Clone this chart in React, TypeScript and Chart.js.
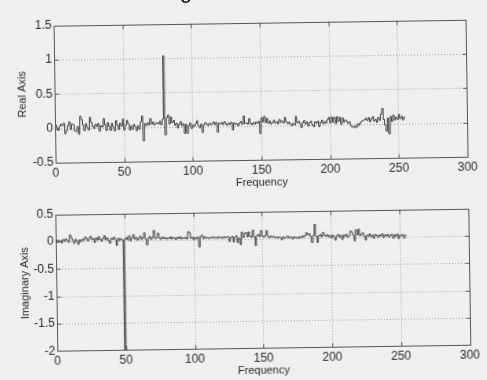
import React, { useEffect, useRef } from "react";
import { Chart, registerables } from "chart.js";

Chart.register(...registerables);

// ---------------- data ----------------
const frequencies: number[] = Array.from({ length: 256 }, (_, i) => i);

const realValues: number[] = [
  0.02, 0.05, 0.01, -0.03, 0.03, 0.06, 0.04, 0.07, -0.08, -0.03, 0.04, 0.09, -0.02, 0.06, 0.05, -0.04,
  -0.05, 0.02, -0.09, 0.17, 0.12, 0.04, -0.04, 0.06, 0.01, -0.03, 0.15, 0.08, 0.02, -0.01, 0.05, 0.02,
  0.06, -0.05, 0.03, 0.01, 0.13, 0.04, -0.04, 0.07, 0.02, -0.04, 0.06, 0.01, -0.05, 0.1, 0.03, -0.03,
  0.06, 0.02, 0.12, -0.04, 0.03, 0.1, 0.05, -0.04, 0.02, -0.03, 0.04, 0.01, -0.05, 0.02, -0.03, 0.08,
  0.16, -0.2, 0.05, 0.02, 0.06, 0.03, 0.12, 0.04, 0.07, 0.03, 0.05, 0.06, 0.04, 0.08, 0.03, 0.11,
  1.03, -0.12, 0.13, 0.17, 0.04, 0.14, 0.06, 0.09, 0.02, 0.05, -0.02, 0.03, 0.07, 0.01, 0.04, -0.1,
  0.03, -0.1, 0.01, 0.05, -0.03, 0.02, 0.0, 0.04, 0.08, 0.01, -0.02, 0.03, -0.09, 0.02, 0.05, 0.03,
  0.01, 0.04, 0.02, 0.03, 0.06, 0.02, 0.05, -0.09, 0.04, 0.03, 0.05, 0.02, 0.06, 0.03, 0.01, 0.04,
  0.02, 0.05, -0.06, 0.04, 0.02, 0.03, 0.0, 0.04, 0.06, 0.02, 0.14, 0.03, 0.04, 0.02, 0.1, 0.03,
  0.01, 0.04, 0.02, 0.05, 0.03, 0.06, -0.12, 0.11, 0.05, 0.13, 0.04, 0.1, 0.03, 0.06, 0.02, 0.04,
  0.07, 0.03, 0.05, 0.02, 0.08, 0.04, 0.06, 0.03, 0.11, 0.05, 0.02, 0.04, 0.01, -0.01, 0.02, 0.0,
  0.12, 0.03, 0.05, 0.02, -0.04, 0.03, 0.06, 0.01, 0.04, -0.02, 0.03, 0.05, 0.0, -0.03, 0.04, 0.02,
  0.05, -0.03, 0.03, 0.06, 0.01, 0.04, 0.02, 0.07, 0.1, 0.02, 0.11, 0.03, 0.1, 0.01, 0.11, 0.04,
  0.1, 0.0, 0.09, 0.03, 0.06, 0.04, 0.01, 0.03, -0.02, -0.04, -0.05, -0.03, -0.05, 0.0, -0.02, 0.02,
  0.04, 0.05, 0.06, 0.08, 0.05, 0.09, 0.03, 0.07, 0.1, 0.04, 0.06, 0.02, 0.09, 0.05, 0.14, 0.22,
  0.06, -0.02, -0.11, 0.08, -0.15, 0.1, 0.03, 0.12, 0.05, 0.09, 0.06, 0.13, 0.07, 0.1, 0.05, 0.09,
];

const imagValues: number[] = [
  0.02, 0.01, 0.03, 0.0, 0.02, -0.02, 0.04, 0.01, 0.05, 0.02, -0.01, 0.12, 0.07, 0.02, -0.03, 0.04,
  0.01, -0.05, 0.03, 0.0, 0.04, 0.02, 0.08, 0.05, 0.01, 0.06, 0.09, 0.03, 0.05, -0.02, 0.06, 0.02,
  0.08, 0.03, 0.0, 0.05, 0.1, 0.02, 0.06, 0.01, -0.04, 0.05, 0.03, 0.07, 0.02, -0.08, 0.05, 0.01,
  0.04, 0.02, -2.0, 0.03, 0.06, 0.02, 0.09, 0.0, 0.05, 0.11, 0.03, 0.06, 0.01, 0.04, 0.08, 0.02,
  0.05, 0.14, 0.03, -0.08, 0.04, 0.07, 0.02, 0.06, 0.18, 0.03, 0.05, 0.13, 0.04, 0.02, 0.06, 0.03,
  0.05, 0.02, 0.04, 0.03, 0.06, 0.02, 0.05, 0.04, 0.01, 0.05, 0.03, 0.06, 0.02, 0.04, 0.03, 0.05,
  0.02, 0.15, 0.13, 0.03, 0.05, 0.0, 0.04, 0.02, 0.05, -0.13, 0.06, 0.08, 0.02, 0.05, 0.03, 0.04,
  0.02, 0.04, 0.03, 0.05, 0.03, 0.04, 0.02, 0.05, 0.03, 0.04, 0.02, 0.05, 0.03, 0.04, 0.05, -0.04,
  0.03, 0.05, -0.05, 0.04, 0.06, -0.06, 0.02, -0.1, 0.13, 0.03, 0.1, 0.12, 0.04, 0.13, 0.05, 0.03,
  0.16, 0.04, -0.12, 0.06, 0.08, 0.04, 0.15, 0.05, 0.03, 0.06, 0.15, 0.04, 0.02, 0.05, 0.03, 0.04,
  0.02, 0.03, 0.01, 0.03, 0.02, -0.02, 0.03, 0.01, 0.02, 0.04, 0.01, 0.03, 0.02, -0.01, 0.03, 0.01,
  0.02, 0.0, 0.03, 0.01, 0.04, 0.02, 0.05, 0.1, 0.06, 0.08, 0.03, -0.08, 0.05, 0.25, 0.03, -0.08,
  0.04, 0.06, 0.02, 0.1, 0.05, 0.03, 0.06, 0.02, 0.04, 0.0, 0.05, 0.02, -0.04, 0.03, 0.06, 0.01,
  0.04, -0.03, 0.05, 0.02, 0.06, 0.01, 0.03, 0.12, 0.1, 0.04, -0.06, 0.14, 0.05, 0.15, 0.03, 0.06,
  0.08, 0.02, -0.05, 0.04, 0.02, 0.06, 0.01, 0.04, -0.02, 0.05, 0.03, 0.0, 0.04, 0.02, 0.06, -0.01,
  0.04, 0.02, 0.05, 0.0, 0.03, 0.05, -0.02, 0.04, 0.01, 0.05, -0.03, 0.03, 0.02, 0.04, -0.02, 0.03,
];

const xTickValues: number[] = [0, 50, 100, 150, 200, 250, 300];
const realTickValues: number[] = [-0.5, 0, 0.5, 1, 1.5];
const imagTickValues: number[] = [-2, -1.5, -1, -0.5, 0, 0.5];

// ---------------- styling ----------------
const FONT = '"Liberation Sans", Arial, Helvetica, sans-serif';
const TEXT = "#2a2a2a";
const BG = "#efefed";

const framePlugin = {
  id: "matlabFrame",
  beforeDatasetsDraw(chart: any) {
    const { ctx, chartArea: a, scales } = chart;
    const yTicks: number[] = chart.options.plugins.matlabFrame.yTicks;
    ctx.save();
    ctx.strokeStyle = "#a9a9a9";
    ctx.lineWidth = 1;
    ctx.setLineDash([1, 2]);
    ctx.beginPath();
    for (const v of xTickValues) {
      const px = Math.round(scales.x.getPixelForValue(v)) + 0.5;
      if (px > a.left + 2 && px < a.right - 2) {
        ctx.moveTo(px, a.top);
        ctx.lineTo(px, a.bottom);
      }
    }
    for (const v of yTicks) {
      const py = Math.round(scales.y.getPixelForValue(v)) + 0.5;
      if (py > a.top + 2 && py < a.bottom - 2) {
        ctx.moveTo(a.left, py);
        ctx.lineTo(a.right, py);
      }
    }
    ctx.stroke();
    ctx.restore();
  },
  afterDatasetsDraw(chart: any) {
    const { ctx, chartArea: a, scales } = chart;
    const yTicks: number[] = chart.options.plugins.matlabFrame.yTicks;
    const L = Math.round(a.left) + 0.5;
    const R = Math.round(a.right) + 0.5;
    const T = Math.round(a.top) + 0.5;
    const B = Math.round(a.bottom) + 0.5;
    const len = 4;
    ctx.save();
    ctx.strokeStyle = "#555555";
    ctx.lineWidth = 1;
    ctx.setLineDash([]);
    ctx.beginPath();
    ctx.rect(L, T, R - L, B - T);
    for (const v of xTickValues) {
      const px = Math.round(scales.x.getPixelForValue(v)) + 0.5;
      ctx.moveTo(px, B);
      ctx.lineTo(px, B - len);
      ctx.moveTo(px, T);
      ctx.lineTo(px, T + len);
    }
    for (const v of yTicks) {
      const py = Math.round(scales.y.getPixelForValue(v)) + 0.5;
      ctx.moveTo(L, py);
      ctx.lineTo(L + len, py);
      ctx.moveTo(R, py);
      ctx.lineTo(R - len, py);
    }
    ctx.stroke();
    ctx.restore();
  },
};

type PanelProps = {
  values: number[];
  yTicks: number[];
  yTitle: string;
  top: number;
  height: number;
  padTop: number;
  padRight: number;
  yAxisWidth: number;
  xAxisHeight: number;
  xTickPad: number;
};

function Panel(props: PanelProps) {
  const ref = useRef<HTMLCanvasElement>(null);
  useEffect(() => {
    const { values, yTicks, yTitle, padTop, padRight, yAxisWidth, xAxisHeight, xTickPad } = props;
    const yMin = Math.min(...yTicks);
    const yMax = Math.max(...yTicks);
    const chart = new Chart(ref.current as HTMLCanvasElement, {
      type: "line",
      data: {
        datasets: [
          {
            data: frequencies.map((f, i) => ({ x: f, y: values[i] })),
            stepped: "after",
            borderColor: "#454545",
            borderWidth: 1,
            pointRadius: 0,
            fill: false,
            tension: 0,
          },
        ],
      },
      options: {
        animation: false,
        responsive: false,
        devicePixelRatio: 1,
        layout: { padding: { top: padTop, right: padRight, left: 0, bottom: 0 } },
        plugins: {
          legend: { display: false },
          tooltip: { enabled: false },
          title: { display: false },
          matlabFrame: { yTicks },
        } as any,
        scales: {
          x: {
            type: "linear",
            min: 0,
            max: 300,
            grid: { display: false, drawTicks: false, tickLength: 0 },
            border: { display: false },
            ticks: {
              stepSize: 50,
              padding: xTickPad,
              color: TEXT,
              font: { family: FONT, size: 12 },
              maxRotation: 0,
              autoSkip: false,
              callback: (v: any) => String(v),
            },
            title: {
              display: true,
              text: "Frequency",
              color: TEXT,
              font: { family: FONT, size: 11 },
              padding: { top: 0, bottom: 2.4 },
            },
            afterFit: (s: any) => {
              s.height = xAxisHeight;
            },
          },
          y: {
            type: "linear",
            min: yMin,
            max: yMax,
            grid: { display: false, drawTicks: false, tickLength: 0 },
            border: { display: false },
            ticks: {
              stepSize: 0.5,
              padding: 2,
              color: TEXT,
              font: { family: FONT, size: 12 },
              autoSkip: false,
              callback: (v: any) => String(v),
            },
            title: {
              display: true,
              text: yTitle,
              color: TEXT,
              font: { family: FONT, size: 11 },
              padding: { top: 17, bottom: 0 },
            },
            afterFit: (s: any) => {
              s.width = yAxisWidth;
            },
          },
        },
      } as any,
      plugins: [framePlugin as any],
    });
    return () => chart.destroy();
  }, []);
  return (
    <canvas
      ref={ref}
      width={487}
      height={props.height}
      style={{ position: "absolute", left: 0, top: props.top, width: 487, height: props.height }}
    />
  );
}

export default function App() {
  useEffect(() => {
    document.body.style.margin = "0";
    document.body.style.background = BG;
  }, []);
  return (
    <div style={{ position: "fixed", left: 0, top: 0, width: 487, height: 380, background: BG, overflow: "hidden" }}>
      <div
        style={{
          position: "absolute",
          left: 0,
          top: 0,
          width: 487,
          height: 380,
          transform: "rotate(-0.83deg)",
          transformOrigin: "243.5px 190px",
        }}
      >
        <Panel
          values={realValues}
          yTicks={realTickValues}
          yTitle="Real Axis"
          top={0}
          height={192}
          padTop={22.5}
          padRight={19}
          yAxisWidth={56}
          xAxisHeight={32}
          xTickPad={3.1}
        />
        <Panel
          values={imagValues}
          yTicks={imagTickValues}
          yTitle="Imaginary Axis"
          top={190}
          height={190}
          padTop={21.8}
          padRight={19.5}
          yAxisWidth={55}
          xAxisHeight={31.7}
          xTickPad={3.5}
        />
      </div>
      <span
        style={{
          position: "absolute",
          left: 180,
          top: -20,
          fontFamily: FONT,
          fontSize: 22,
          lineHeight: "22px",
          color: "#111",
          whiteSpace: "nowrap",
        }}
      >
        g
      </span>
    </div>
  );
}
